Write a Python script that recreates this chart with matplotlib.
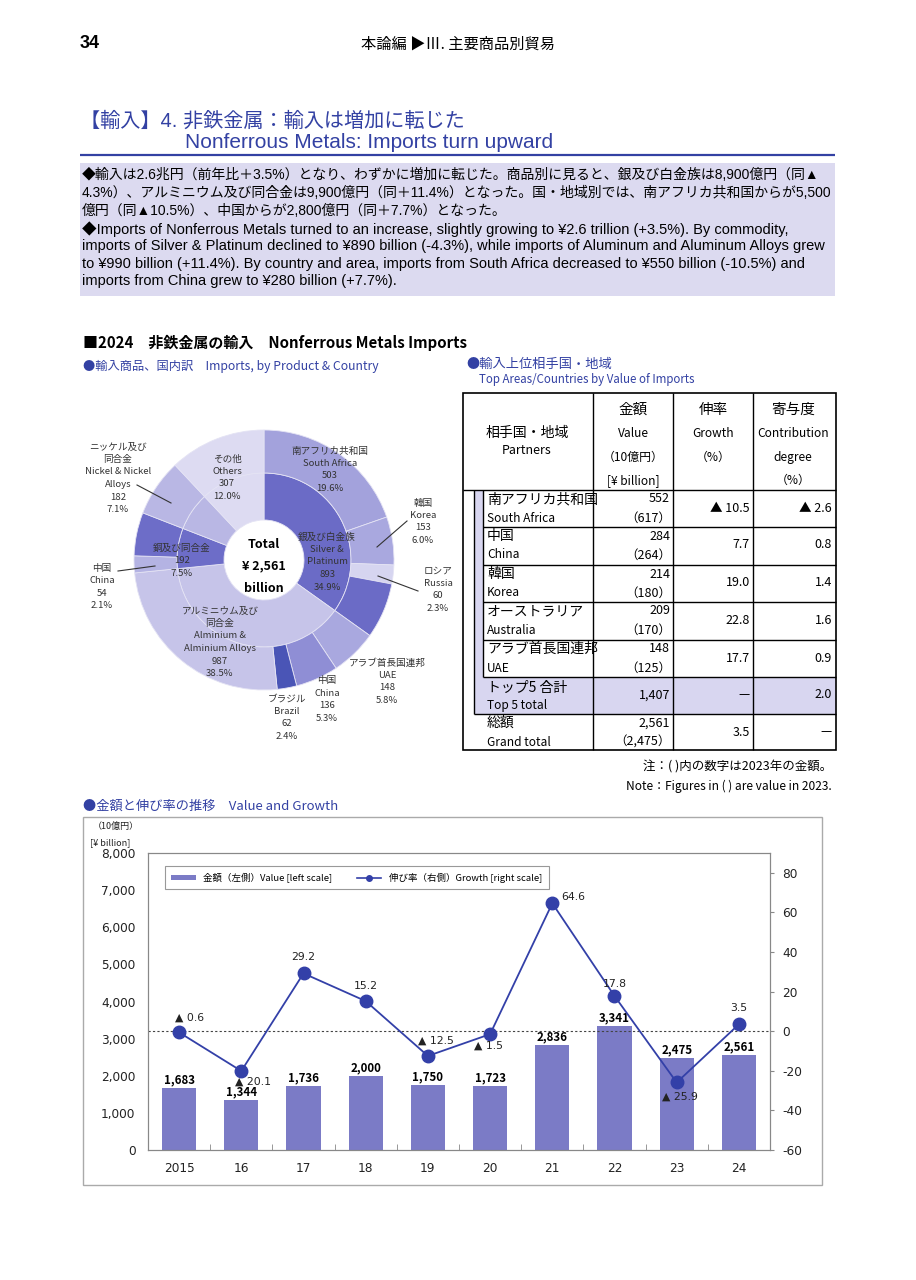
import numpy as np
import matplotlib.pyplot as plt
from matplotlib import font_manager
from matplotlib.patches import Rectangle
from matplotlib.lines import Line2D

_names = {f.name for f in font_manager.fontManager.ttflist}
NARROW = 'Liberation Sans Narrow' if 'Liberation Sans Narrow' in _names else 'Liberation Sans'
JP = 'Noto Sans CJK JP'
BLUE = '#3341a3'
INK = '#222222'
plt.rcParams['axes.unicode_minus'] = False

# ---- pie data (2024 imports, 10億円)
product_values = [893, 987, 192, 182, 307]   # silver/platinum, aluminium, copper, nickel, others
product_colors = ['#6b6bc6', '#c6c4e9', '#6d6dc8', '#b9b7e4', '#dddbf2']
sub_values = [[503, 153, 60], [148, 136, 62], [54], [], []]
sub_colors = [['#a3a2dc', '#a9a8df', '#d6d5f0'], ['#a9a8df', '#8f8ed5', '#4a55b6'], ['#b4b3e3'], [], []]
total_value = 2561

# ---- partner table
partners_jp = ['南アフリカ共和国', '中国', '韓国', 'オーストラリア', 'アラブ首長国連邦']
partners_en = ['South Africa', 'China', 'Korea', 'Australia', 'UAE']
partner_value = [552, 284, 214, 209, 148]
partner_prev = [617, 264, 180, 170, 125]
partner_growth = [-10.5, 7.7, 19.0, 22.8, 17.7]
partner_contrib = [-2.6, 0.8, 1.4, 1.6, 0.9]
top5_value = 1407
top5_contrib = 2.0
grand_value = 2561
grand_prev = 2475
grand_growth = 3.5

# ---- value & growth
years = ['2015', '16', '17', '18', '19', '20', '21', '22', '23', '24']
import_values = [1683, 1344, 1736, 2000, 1750, 1723, 2836, 3341, 2475, 2561]
growth = [-0.6, -20.1, 29.2, 15.2, -12.5, -1.5, 64.6, 17.8, -25.9, 3.5]


def tri(v):
    return f'▲ {abs(v):.1f}' if v < 0 else f'{v:.1f}'


fig = plt.figure(figsize=(9.16, 12.8), dpi=100)
W, H = 916, 1280

page = fig.add_axes([0, 0, 1, 1])
page.set_xlim(0, W)
page.set_ylim(H, 0)
page.axis('off')
page.set_zorder(10)
page.patch.set_alpha(0)


def T(x, y, s, size, ha='left', va='center', color=INK, weight='normal', family=None):
    page.text(x, y, s, fontsize=size, ha=ha, va=va, color=color,
              fontweight=weight, family=family or [JP])


def stack(x, y0, lines, step=12.5, size=6.9, **kw):
    for k, s in enumerate(lines):
        T(x, y0 + k * step, s, size, ha='center', color='#333333', **kw)


def hline(y, x0, x1, lw=1.0, color='black', **kw):
    page.plot([x0, x1], [y, y], color=color, lw=lw, solid_capstyle='butt', **kw)


def vline(x, y0, y1, lw=1.0, color='black', **kw):
    page.plot([x, x], [y0, y1], color=color, lw=lw, solid_capstyle='butt', **kw)


# ---- page header
T(80, 44, '34', 13, weight='bold', family=[NARROW, JP], color='black')
T(458, 44, '本論編 ▶Ⅲ. 主要商品別貿易', 11, ha='center', family=[JP], color='black')

T(80, 121, '【輸入】4. 非鉄金属：輸入は増加に転じた', 14.5, color=BLUE, family=[NARROW, JP])
T(185, 143, 'Nonferrous Metals: Imports turn upward', 15, color=BLUE, family=[NARROW, JP])
hline(155, 80, 835, lw=1.6, color=BLUE)

page.add_patch(Rectangle((80, 163), 755, 133, facecolor='#dcdaf0', edgecolor='none'))
jp_lines = [
    '◆輸入は2.6兆円（前年比＋3.5%）となり、わずかに増加に転じた。商品別に見ると、銀及び白金族は8,900億円（同▲',
    '4.3%）、アルミニウム及び同合金は9,900億円（同＋11.4%）となった。国・地域別では、南アフリカ共和国からが5,500',
    '億円（同▲10.5%）、中国からが2,800億円（同＋7.7%）となった。',
]
en_lines = [
    '◆Imports of Nonferrous Metals turned to an increase, slightly growing to ¥2.6 trillion (+3.5%). By commodity,',
    'imports of Silver & Platinum declined to ¥890 billion (-4.3%), while imports of Aluminum and Aluminum Alloys grew',
    'to ¥990 billion (+11.4%). By country and area, imports from South Africa decreased to ¥550 billion (-10.5%) and',
    'imports from China grew to ¥280 billion (+7.7%).',
]
for k, s in enumerate(jp_lines):
    T(82, 175 + 18 * k, s, 10.0, family=[NARROW, JP], color='black')
for k, s in enumerate(en_lines):
    T(82, 229 + 17.3 * k, s, 10.5, family=[NARROW, JP], color='black')

T(83, 343, '■2024　非鉄金属の輸入　Nonferrous Metals Imports', 10.8, weight='bold', color='black')
T(83, 366, '●輸入商品、国内訳　Imports, by Product & Country', 8.8, color=BLUE)

# ---- sunburst pie
cx, cy, R = 264, 560, 130
pax = fig.add_axes([(cx - R) / W, 1 - (cy + R) / H, 2 * R / W, 2 * R / H])
pax.patch.set_alpha(0)
outer_vals, outer_cols = [], []
for pv, pc, sv, sc in zip(product_values, product_colors, sub_values, sub_colors):
    outer_vals += sv
    outer_cols += sc
    outer_vals.append(pv - sum(sv))
    outer_cols.append(pc)
edge = dict(edgecolor='#e4e3f4', linewidth=0.6)
pax.pie(product_values, colors=product_colors, radius=87 / R, startangle=90, counterclock=False,
        wedgeprops=dict(width=(87 - 40) / R, **edge))
pax.pie(outer_vals, colors=outer_cols, radius=1.0, startangle=90, counterclock=False,
        wedgeprops=dict(width=(R - 87) / R, **edge))
pax.set_xlim(-1, 1)
pax.set_ylim(-1, 1)
pax.axis('off')

stack(118, 447, ['ニッケル及び', '同合金', 'Nickel & Nickel', 'Alloys', '182', '7.1%'])
stack(227, 459, ['その他', 'Others', '307', '12.0%'])
stack(330, 451, ['南アフリカ共和国', 'South Africa', '503', '19.6%'])
stack(423, 503, ['韓国', 'Korea', '153', '6.0%'])
stack(327, 537, ['銀及び白金族', 'Silver &', 'Platinum', '893', '34.9%'])
stack(182, 548, ['銅及び同合金', '192', '7.5%'])
stack(102, 568, ['中国', 'China', '54', '2.1%'])
stack(438, 571, ['ロシア', 'Russia', '60', '2.3%'])
stack(220, 611, ['アルミニウム及び', '同合金', 'Alminium &', 'Alminium Alloys', '987', '38.5%'])
stack(387, 663, ['アラブ首長国連邦', 'UAE', '148', '5.8%'])
stack(327, 681, ['中国', 'China', '136', '5.3%'])
stack(287, 699, ['ブラジル', 'Brazil', '62', '2.4%'])
T(264, 544, 'Total', 9, ha='center', weight='bold', color='black')
T(264, 566, f'¥ {total_value:,}', 9, ha='center', weight='bold', color='black')
T(264, 589, 'billion', 9, ha='center', weight='bold', color='black')
for (x0, y0, x1, y1) in [(137, 485, 171, 503), (118, 571, 155, 566), (407, 521, 377, 547), (418, 591, 378, 576)]:
    page.plot([x0, x1], [y0, y1], color='#333333', lw=0.8)

# ---- partner table
T(466, 364, '●輸入上位相手国・地域', 9.5, color=BLUE)
T(479, 380, 'Top Areas/Countries by Value of Imports', 8.3, color=BLUE)

L, Rt, top, hb = 463, 836, 393, 490
cols = [593, 673, 753]
edges = [490, 527, 565, 602, 640, 677, 714, 750]
page.add_patch(Rectangle((474, 490), 9, 677 - 490, facecolor='#d8d6f0', edgecolor='none'))
page.add_patch(Rectangle((474, 677), Rt - 474, 714 - 677, facecolor='#d8d6f0', edgecolor='none'))
page.add_patch(Rectangle((L, top), Rt - L, 750 - top, facecolor='none', edgecolor='black', lw=1.2))
for x in cols:
    vline(x, top, 750)
hline(hb, L, Rt)
for y in edges[1:6]:
    hline(y, 483, Rt)
hline(714, 474, Rt)
vline(474, 490, 714)
vline(483, 490, 677)

T(527, 433, '相手国・地域', 10, ha='center', color='black')
T(527, 450, 'Partners', 9, ha='center', color='black')
for x, lines in [(633, ['金額', 'Value', '（10億円）', '[¥ billion]']),
                 (713, ['伸率', 'Growth', '（%）']),
                 (793, ['寄与度', 'Contribution', 'degree', '（%）'])]:
    for k, s in enumerate(lines):
        T(x, 410 + 23.5 * k, s, 10.5 if k == 0 else 8.6, ha='center', color='black')

for i in range(5):
    t = edges[i]
    T(487, t + 9, partners_jp[i], 10, color='black')
    T(487, t + 28, partners_en[i], 8.6, color='black')
    T(670, t + 9, f'{partner_value[i]:,}', 9, ha='right', color='black')
    T(671, t + 28, f'（{partner_prev[i]:,}）', 9, ha='right', color='black')
    T(750, t + 18, tri(partner_growth[i]), 9, ha='right', color='black')
    T(832, t + 18, tri(partner_contrib[i]), 9, ha='right', color='black')
T(487, 688, 'トップ5 合計', 10, color='black')
T(487, 705, 'Top 5 total', 8.6, color='black')
T(670, 695, f'{top5_value:,}', 9, ha='right', color='black')
T(750, 695, '—', 9, ha='right', color='black')
T(832, 695, f'{top5_contrib:.1f}', 9, ha='right', color='black')
T(487, 723, '総額', 10, color='black')
T(487, 742, 'Grand total', 8.6, color='black')
T(670, 723, f'{grand_value:,}', 9, ha='right', color='black')
T(671, 742, f'（{grand_prev:,}）', 9, ha='right', color='black')
T(750, 732, tri(grand_growth), 9, ha='right', color='black')
T(832, 732, '—', 9, ha='right', color='black')
T(832, 767, '注：( )内の数字は2023年の金額。', 9, ha='right', color='black')
T(832, 786, 'Note：Figures in ( ) are value in 2023.', 8.6, ha='right', color='black')

# ---- value and growth chart
T(83, 806, '●金額と伸び率の推移　Value and Growth', 9.5, color=BLUE)
page.add_patch(Rectangle((83, 817), 739, 368, facecolor='none', edgecolor='#aaaaaa', lw=1.0))
T(93, 826, '（10億円）', 6.5)
T(90, 843, '[¥ billion]', 6.5)

ax1 = fig.add_axes([148 / W, 1 - 1150 / H, 622 / W, 297 / H])
x = np.arange(len(years))
bars = ax1.bar(x, import_values, width=0.55, color='#7b7bc6', zorder=2)
ax1.bar_label(bars, labels=[f'{v:,}' for v in import_values], padding=1,
              fontsize=8.3, fontweight='bold', family=[JP], color='black')
ax1.set_xlim(-0.5, len(years) - 0.5)
ax1.set_ylim(0, 8000)
ax1.set_yticks(np.arange(0, 8001, 1000))
ax1.set_yticklabels([f'{v:,}' for v in range(0, 8001, 1000)])
ax1.set_xticks(x)
ax1.set_xticklabels(years)
ax1.set_xticks(x[:-1] + 0.5, minor=True)
ax1.tick_params(axis='x', which='major', length=0, pad=9, labelsize=8.7, labelcolor='#222')
ax1.tick_params(axis='x', which='minor', direction='in', length=4, color='#888')
ax1.tick_params(axis='y', length=0, pad=9, labelsize=8.7, labelcolor='#222')
for sp in ax1.spines.values():
    sp.set_color('#888888')

ax2 = ax1.twinx()
ax2.set_ylim(-60, 90)
ax2.set_yticks(np.arange(-60, 81, 20))
ax2.axhline(0, color='#444444', lw=0.8, ls=(0, (2, 2)), zorder=1)
ax2.plot(x, growth, color='#3340a8', lw=1.3, marker='o', markersize=9, zorder=3)
ax2.tick_params(axis='y', length=3, color='#888', pad=6, labelsize=8.7, labelcolor='#222')
for sp in ax2.spines.values():
    sp.set_color('#888888')
label_offsets = [(10, 15), (12, -11), (0, 16), (0, 15), (8, 15), (-2, -11), (21, 6), (0, 12), (3, -14), (0, 16)]
for i, g in enumerate(growth):
    dx, dy = label_offsets[i]
    ax2.annotate(tri(g), (i, g), xytext=(dx * 0.72, dy * 0.72), textcoords='offset points',
                 ha='center', va='center', fontsize=7.8, color='#222')

handles = [Rectangle((0, 0), 1, 1, facecolor='#7b7bc6'),
           Line2D([], [], color='#3340a8', lw=1.2, marker='o', markersize=4)]
leg = ax2.legend(handles, ['金額（左側）Value [left scale]', '伸び率（右側）Growth [right scale]'],
                 loc='upper left', bbox_to_anchor=(0.019, 0.972), ncol=2, fancybox=False,
                 edgecolor='#999999', framealpha=1, prop={'family': [JP], 'size': 6.8},
                 handlelength=2.6, handleheight=0.5, columnspacing=2.6, borderpad=0.7)
leg.get_frame().set_linewidth(0.8)

fig.savefig('out.png', dpi=100)
